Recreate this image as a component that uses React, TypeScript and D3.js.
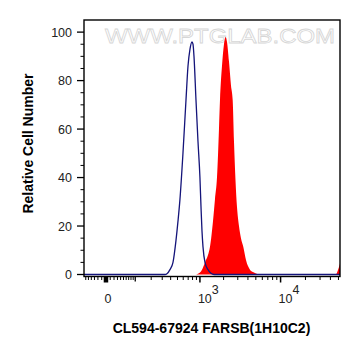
import React from "react";
import * as d3 from "d3";

// control (blue outline) histogram: intensity, count
const blueX = [-67, 330, 353, 391, 432, 476, 508, 541, 595, 654, 696, 740, 787, 811, 836, 888, 943, 1000, 1032, 1063, 1095, 1162, 1270, 1387, 1513, 52184];
const blueY = [0, 0, 0.3, 2, 5, 14, 22, 31, 50, 72, 86, 93, 96, 95, 90, 72, 55, 40, 28, 18, 11.5, 5, 2, 0.5, 0, 0];

// stained sample (red filled) histogram
const redX = [888, 1001, 1063, 1162, 1270, 1347, 1470, 1558, 1652, 1750, 1802, 1909, 2022, 2123, 2204, 2334, 2472, 2595, 2693, 2811, 2933, 3105, 3286, 3508, 3787, 4007, 4240, 4614, 5021, 5618, 46500, 49000, 52184];
const redY = [0, 0.8, 2, 5, 8, 11.5, 22, 31, 40, 60, 72, 86, 95, 98, 96, 88, 78, 72, 55, 39, 28, 20, 15, 11.5, 6, 3.5, 2, 1, 0.4, 0, 0, 1.5, 4.5];

const yTicks = [0, 20, 40, 60, 80, 100];
const yMinor = [5, 10, 15, 25, 30, 35, 45, 50, 55, 65, 70, 75, 85, 90, 95];
const xMajor = [0, 1000, 10000];
const xMid = [100];
const xMinor = [-60, -50, -40, -30, -20, -10, 10, 20, 30, 40, 50, 60, 70, 80, 90,
  200, 300, 400, 500, 600, 700, 800, 900,
  2000, 3000, 4000, 5000, 6000, 7000, 8000, 9000,
  20000, 30000, 40000, 50000];
const xLabels = [{ v: 0, base: "0", exp: "" }, { v: 1000, base: "10", exp: "3" }, { v: 10000, base: "10", exp: "4" }];

const W = 361, H = 356;
const left = 84, right = 340, top = 20, bottom = 276.5;
const font = "'Liberation Sans', Arial, sans-serif";

export default function App() {
  const x = d3.scaleSymlog().constant(80).domain([-67, 52184]).range([left, right]);
  const y = d3.scaleLinear().domain([0, 105]).range([274.5, top]);

  const blue = blueX.map((v, i) => [v, blueY[i]] as [number, number]);
  const red = redX.map((v, i) => [v, redY[i]] as [number, number]);

  const line = d3.line<[number, number]>().x(d => x(d[0])).y(d => y(d[1])).curve(d3.curveMonotoneX);
  const area = d3.area<[number, number]>().x(d => x(d[0])).y0(y(0)).y1(d => y(d[1])).curve(d3.curveMonotoneX);

  return (
    <svg width={W} height={H} style={{ position: "absolute", left: 0, top: 0 }} fontFamily={font}>
      <rect width={W} height={H} fill="#fff" />
      {/* watermark */}
      <text x={105} y={43} fontSize={21} textLength={230} lengthAdjust="spacingAndGlyphs"
        fill="#fff" stroke="#d6d6d6" strokeWidth={0.8}>WWW.PTGLAB.COM</text>

      <path d={area(red) || ""} fill="#ff0000" />
      <path d={line(blue) || ""} fill="none" stroke="#14147a" strokeWidth={1.3} />

      <rect x={left} y={top} width={right - left} height={bottom - top} fill="none" stroke="#000" strokeWidth={1.4} />

      {/* y axis */}
      {yTicks.map(t => (
        <g key={"y" + t}>
          <line x1={left - 7} x2={left} y1={y(t)} y2={y(t)} stroke="#000" strokeWidth={1.3} />
          <text x={72} y={y(t)} dy="0.36em" textAnchor="end" fontSize={12.5} fill="#222">{t}</text>
        </g>
      ))}
      {yMinor.map(t => (
        <line key={"ym" + t} x1={left - 3.5} x2={left} y1={y(t)} y2={y(t)} stroke="#000" strokeWidth={1} />
      ))}

      {/* x axis */}
      {xMinor.map(t => (
        <line key={"xm" + t} x1={x(t)} x2={x(t)} y1={bottom} y2={bottom + 3.5} stroke="#000" strokeWidth={1} />
      ))}
      {xMid.map(t => (
        <line key={"xd" + t} x1={x(t)} x2={x(t)} y1={bottom} y2={bottom + 5} stroke="#000" strokeWidth={1.3} />
      ))}
      {xMajor.map(t => (
        <line key={"xM" + t} x1={x(t)} x2={x(t)} y1={bottom} y2={bottom + 6}
          stroke="#000" strokeWidth={t === 0 ? 4.5 : 1.5} />
      ))}
      {xLabels.map(l => l.exp ? (
        <text key={"xl" + l.v} x={x(l.v) - 2} y={303} fontSize={12.5} fill="#222">
          {l.base}<tspan dy={-9.5} fontSize={12.5}>{l.exp}</tspan>
        </text>
      ) : (
        <text key={"xl" + l.v} x={x(l.v) + 2} y={302.5} textAnchor="middle" fontSize={12.5} fill="#222">{l.base}</text>
      ))}

      {/* titles */}
      <text x={211.5} y={333} textAnchor="middle" fontSize={14} fontWeight="bold" fill="#000">CL594-67924 FARSB(1H10C2)</text>
      <text transform="translate(32.5,143.5) rotate(-90)" textAnchor="middle" fontSize={14} fontWeight="bold" fill="#000">Relative Cell Number</text>
    </svg>
  );
}
